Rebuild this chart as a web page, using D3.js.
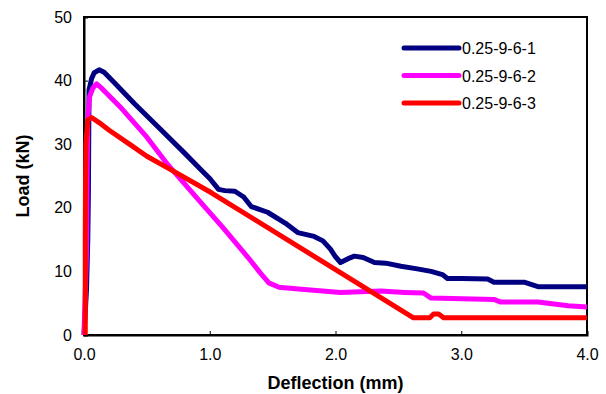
<!DOCTYPE html>
<html><head><meta charset="utf-8">
<script src="https://cdn.jsdelivr.net/npm/d3@7"></script>
<style>body{margin:0;background:#fff}svg{display:block}</style>
</head><body>
<script>
const seriesNames = ["0.25-9-6-1", "0.25-9-6-2", "0.25-9-6-3"];
const seriesColors = ["#000080", "#FF00FF", "#FF0000"];
const xTicks = [0, 1, 2, 3, 4];
const yTicks = [0, 10, 20, 30, 40, 50];

const s1x = [0,0.02,0.03,0.035,0.04,0.06,0.08,0.12,0.16,0.24,0.4,0.6,0.8,0.93,1.0,1.07,1.12,1.2,1.27,1.33,1.46,1.6,1.7,1.83,1.9,1.96,2.0,2.04,2.1,2.15,2.22,2.31,2.4,2.52,2.65,2.76,2.85,2.89,3.0,3.21,3.26,3.5,3.61,3.8,4.0];
const s1y = [0,7.2,15,22.4,38.5,40.3,41.2,41.7,41.3,39.7,36.4,32.5,28.6,26,24.6,22.9,22.7,22.6,21.7,20.2,19.3,17.6,16.1,15.5,14.8,13.5,12.3,11.4,12.0,12.4,12.2,11.4,11.3,10.8,10.4,10.0,9.5,8.9,8.9,8.8,8.3,8.3,7.6,7.6,7.6];

const s2x = [0,0.02,0.025,0.03,0.045,0.07,0.1,0.14,0.3,0.5,0.67,0.93,1.1,1.3,1.4,1.47,1.55,1.73,2.04,2.36,2.55,2.7,2.76,3.26,3.31,3.61,3.85,4.0];
const s2y = [0,13,25,34,37.5,38.8,39.5,38.8,35.6,31.1,26.7,20.8,17,12.3,9.8,8.2,7.5,7.2,6.7,6.9,6.7,6.6,5.8,5.6,5.2,5.2,4.6,4.4];

const s3x = [0.01,0.01,0.012,0.015,0.03,0.06,0.12,0.2,0.37,0.5,0.69,1.01,2.62,2.75,2.78,2.82,2.86,3.2,3.6,4.0];
const s3y = [0,15,24,30,33.8,34.2,33.4,32.2,29.9,28.1,26,22.4,2.7,2.7,3.3,3.3,2.7,2.7,2.7,2.7];

const seriesX = [s1x, s2x, s3x];
const seriesY = [s1y, s2y, s3y];
const series = seriesX.map((xs, k) => xs.map((v, i) => [v, seriesY[k][i]]));

const W = 606, H = 394;
const m = {left:84, right:19, top:17, bottom:59};
const svg = d3.select("body").append("svg").attr("width", W).attr("height", H);
const x = d3.scaleLinear().domain([0,4]).range([m.left, W - m.right]);
const y = d3.scaleLinear().domain([0,50]).range([H - m.bottom, m.top]);
const font = "'Liberation Sans', Arial, sans-serif";

// frame
svg.append("rect").attr("x", x(0)).attr("y", y(50)).attr("width", x(4)-x(0)).attr("height", y(0)-y(50))
  .attr("fill","none").attr("stroke","#000").attr("stroke-width",2);

// axes
const xa = svg.append("g").attr("transform", `translate(0,${y(0)})`)
  .call(d3.axisBottom(x).tickValues(xTicks).tickSize(-4).tickPadding(14).tickFormat(d3.format(".1f")));
const ya = svg.append("g").attr("transform", `translate(${x(0)},0)`)
  .call(d3.axisLeft(y).tickValues(yTicks).tickSize(-4).tickPadding(12).tickFormat(d3.format("d")));
[xa, ya].forEach(g => {
  g.select(".domain").attr("stroke","#000").attr("stroke-width",2);
  g.selectAll(".tick line").attr("stroke","#000").attr("stroke-width",1);
  g.selectAll(".tick text").attr("font-family", font).attr("font-size", 16).attr("fill","#000");
});

// lines
const line = d3.line().x(d=>x(d[0])).y(d=>y(d[1])).curve(d3.curveLinear);
series.forEach((s,i)=>{
  svg.append("path").datum(s).attr("d", line).attr("fill","none")
    .attr("stroke", seriesColors[i]).attr("stroke-width", 5)
    .attr("stroke-linejoin","round").attr("stroke-linecap","butt");
});

// axis titles
svg.append("text").attr("x", (x(0)+x(4))/2).attr("y", 389).attr("text-anchor","middle")
  .attr("font-family", font).attr("font-weight","bold").attr("font-size",18).text("Deflection (mm)");
svg.append("text").attr("transform", `translate(29,${(y(0)+y(50))/2}) rotate(-90)`).attr("text-anchor","middle")
  .attr("font-family", font).attr("font-weight","bold").attr("font-size",18).text("Load (kN)");

// legend
const lg = svg.append("g");
seriesNames.forEach((n,i)=>{
  const yy = 48 + i*27.5;
  lg.append("line").attr("x1",404).attr("x2",459).attr("y1",yy).attr("y2",yy)
    .attr("stroke", seriesColors[i]).attr("stroke-width",5).attr("stroke-linecap","round");
  lg.append("text").attr("x",462).attr("y",yy+6).attr("font-family",font).attr("font-size",16).text(n);
});
</script>
</body></html>
